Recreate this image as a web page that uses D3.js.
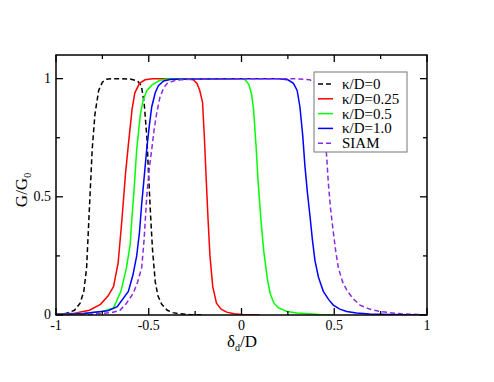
<!DOCTYPE html>
<html><head><meta charset="utf-8">
<script src="https://cdn.jsdelivr.net/npm/d3@7"></script>
<style>body{margin:0;background:#fff}svg{display:block}</style>
</head><body><svg id="c" width="494" height="382" font-family="'Liberation Serif', 'Times New Roman', 'DejaVu Serif', serif"></svg>
<script>
const seriesNames = ["κ/D=0","κ/D=0.25","κ/D=0.5","κ/D=1.0","SIAM"];
const xTicks = [-1,-0.5,0,0.5,1];
const xTickLabels = ["-1","-0.5","0","0.5","1"];
const yTicks = [0,0.5,1];
const yTickLabels = ["0","0.5","1"];

const k0 = [[-1,0.002],[-0.95,0.006],[-0.9,0.02],[-0.87,0.05],[-0.85,0.1],[-0.835,0.2],[-0.82,0.45],[-0.805,0.7],[-0.79,0.85],[-0.77,0.95],[-0.75,0.985],[-0.73,0.997],[-0.7,1],[-0.65,1],[-0.6,0.998],[-0.56,0.99],[-0.54,0.97],[-0.525,0.9],[-0.51,0.75],[-0.5,0.58],[-0.49,0.42],[-0.48,0.28],[-0.465,0.14],[-0.45,0.08],[-0.43,0.045],[-0.4,0.02],[-0.37,0.01],[-0.33,0.005],[-0.28,0.002],[-0.2,0]];
const k025 = [[-1,0.003],[-0.9,0.007],[-0.82,0.02],[-0.76,0.045],[-0.72,0.08],[-0.69,0.12],[-0.665,0.22],[-0.645,0.4],[-0.625,0.6],[-0.61,0.72],[-0.59,0.87],[-0.575,0.94],[-0.55,0.98],[-0.52,0.995],[-0.48,1],[-0.4,1],[-0.3,1],[-0.26,0.995],[-0.24,0.98],[-0.225,0.95],[-0.21,0.9],[-0.2,0.75],[-0.19,0.57],[-0.18,0.4],[-0.17,0.25],[-0.155,0.12],[-0.135,0.05],[-0.11,0.025],[-0.08,0.012],[-0.04,0.005],[0,0.002],[0.1,0]];
const k05 = [[-1,0.002],[-0.85,0.007],[-0.75,0.015],[-0.69,0.03],[-0.65,0.1],[-0.62,0.2],[-0.6,0.3],[-0.59,0.42],[-0.58,0.52],[-0.565,0.7],[-0.545,0.85],[-0.53,0.91],[-0.51,0.95],[-0.48,0.975],[-0.44,0.993],[-0.4,0.998],[0,1],[0.02,0.995],[0.04,0.975],[0.055,0.93],[0.065,0.87],[0.078,0.72],[0.09,0.56],[0.105,0.4],[0.12,0.27],[0.14,0.15],[0.155,0.09],[0.175,0.05],[0.2,0.03],[0.245,0.015],[0.3,0.008],[0.42,0.002],[0.5,0]];
const k1 = [[-1,0.002],[-0.85,0.006],[-0.72,0.018],[-0.67,0.035],[-0.61,0.1],[-0.585,0.17],[-0.565,0.25],[-0.55,0.35],[-0.538,0.47],[-0.525,0.58],[-0.511,0.7],[-0.497,0.8],[-0.484,0.88],[-0.465,0.94],[-0.448,0.97],[-0.42,0.99],[-0.38,0.997],[0,1],[0.2,1],[0.25,0.995],[0.28,0.98],[0.3,0.95],[0.315,0.88],[0.33,0.76],[0.342,0.63],[0.355,0.52],[0.369,0.42],[0.382,0.32],[0.396,0.23],[0.415,0.16],[0.441,0.1],[0.47,0.065],[0.495,0.042],[0.53,0.025],[0.567,0.015],[0.62,0.008],[0.69,0.004],[0.8,0.002],[1,0]];
const siam = [[-1,0.001],[-0.8,0.004],[-0.7,0.01],[-0.655,0.02],[-0.62,0.05],[-0.583,0.093],[-0.56,0.14],[-0.538,0.2],[-0.525,0.32],[-0.511,0.5],[-0.497,0.62],[-0.484,0.7],[-0.47,0.79],[-0.457,0.855],[-0.44,0.92],[-0.42,0.96],[-0.4,0.98],[-0.368,0.99],[-0.33,0.995],[-0.25,0.998],[0.2,1],[0.3,0.999],[0.369,0.995],[0.4,0.98],[0.423,0.94],[0.437,0.87],[0.45,0.77],[0.46,0.66],[0.468,0.56],[0.48,0.45],[0.495,0.35],[0.508,0.27],[0.522,0.2],[0.545,0.14],[0.567,0.106],[0.6,0.07],[0.639,0.042],[0.69,0.025],[0.747,0.015],[0.8,0.01],[0.86,0.005],[0.95,0.002],[1,0.001]];

const allData = [k0,k025,k05,k1,siam];
const colors = ["#000000","#ff0000","#00ff00","#0000ff","#8a2be2"];
const dashes = ["5,3",null,null,null,"5,3"];

const svg = d3.select("#c");
const L=56,R=427,T=55,B=315;
const x = d3.scaleLinear().domain([-1,1]).range([L,R]);
const y = d3.scaleLinear().domain([0,1.1]).range([B,T]);

const g = svg.append("g");
svg.append("clipPath").attr("id","cl").append("rect").attr("x",L).attr("y",T).attr("width",R-L).attr("height",B-T);
const line = d3.line().x(d=>x(d[0])).y(d=>y(d[1]));
allData.forEach((d,i)=>{
  g.append("path").attr("d",line(d)).attr("fill","none").attr("stroke",colors[i])
   .attr("stroke-width",1.5).attr("stroke-dasharray",dashes[i]).attr("clip-path","url(#cl)");
});

const xMinor=[-0.75,-0.25,0.25,0.75], yMinor=[0.25,0.75];
const a = svg.append("g").attr("stroke","#000").attr("stroke-width",1.3);
function vt(v,len){a.append("line").attr("x1",x(v)).attr("x2",x(v)).attr("y1",B).attr("y2",B-len);
  a.append("line").attr("x1",x(v)).attr("x2",x(v)).attr("y1",T).attr("y2",T+len);}
function ht(v,len){a.append("line").attr("y1",y(v)).attr("y2",y(v)).attr("x1",L).attr("x2",L+len);
  a.append("line").attr("y1",y(v)).attr("y2",y(v)).attr("x1",R).attr("x2",R-len);}
xTicks.forEach(v=>vt(v,7)); xMinor.forEach(v=>vt(v,4));
yTicks.forEach(v=>ht(v,7)); yMinor.forEach(v=>ht(v,4));
svg.append("rect").attr("x",L).attr("y",T).attr("width",R-L).attr("height",B-T)
  .attr("fill","none").attr("stroke","#000").attr("stroke-width",1.5);

xTicks.forEach((v,i)=>svg.append("text").attr("x",x(v)).attr("y",B+15).attr("text-anchor","middle")
  .attr("font-size",14).text(xTickLabels[i]));
yTicks.forEach((v,i)=>svg.append("text").attr("x",L-5).attr("y",y(v)+4).attr("text-anchor","end")
  .attr("font-size",14).text(yTickLabels[i]));

const xl = svg.append("text").attr("x",242).attr("y",347).attr("text-anchor","middle").attr("font-size",17);
xl.append("tspan").text("δ");
xl.append("tspan").attr("font-size",10).attr("dy",4).text("d");
xl.append("tspan").attr("dy",-4).text("/D");
const yl = svg.append("text").attr("transform","translate(27,190) rotate(-90)").attr("text-anchor","middle").attr("font-size",17);
yl.append("tspan").text("G/G");
yl.append("tspan").attr("font-size",10).attr("dy",4).text("0");

const lg = svg.append("g");
lg.append("rect").attr("x",314).attr("y",72).attr("width",93).attr("height",80)
  .attr("fill","#fff").attr("stroke","#777").attr("stroke-width",1);
seriesNames.forEach((n,i)=>{
  const yy = 84 + i*14.8;
  lg.append("line").attr("x1",318).attr("x2",333).attr("y1",yy).attr("y2",yy)
    .attr("stroke",colors[i]).attr("stroke-width",1.5).attr("stroke-dasharray",dashes[i]);
  lg.append("text").attr("x",342).attr("y",yy+5).attr("font-size",15).text(n);
});
</script></body></html>
